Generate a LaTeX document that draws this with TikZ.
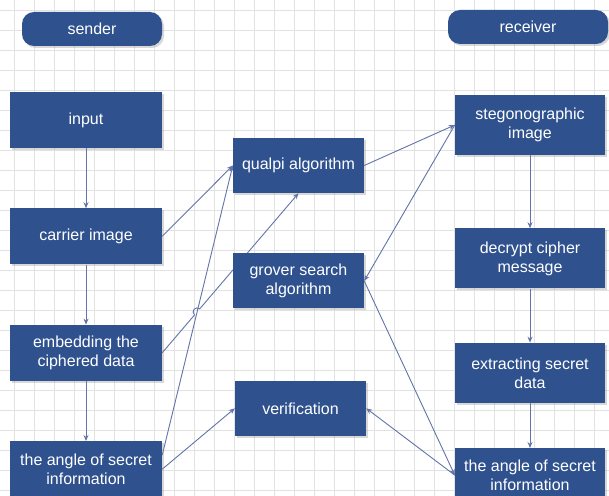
\documentclass[tikz,border=0pt]{standalone}
\usepackage{fontspec}
\setmainfont{Liberation Sans}
\usetikzlibrary{positioning, arrows.meta, shadows, calc, intersections, backgrounds}

\definecolor{boxblue}{RGB}{47,82,143}
\definecolor{linkblue}{RGB}{98,116,168}
\definecolor{gridgray}{RGB}{226,226,226}

\begin{document}
\begin{tikzpicture}[x=1pt, y=1pt, node distance=60pt,
    box/.style={fill=boxblue, text=white, align=center, inner sep=0pt,
        font=\fontsize{16}{19}\selectfont,
        drop shadow={shadow xshift=2pt, shadow yshift=-2pt, opacity=0.3}},
    sidebox/.style={box, minimum width=152pt, minimum height=56pt},
    midbox/.style={box, minimum width=131pt, minimum height=55pt},
    recvbox/.style={box, minimum width=150pt, minimum height=60pt},
    header/.style={box, rounded corners=12pt, minimum height=34pt},
    link/.style={draw=linkblue, line width=0.9pt, -{Stealth[length=6pt, width=5pt]}}]
    \useasboundingbox (0,0) rectangle (609,-495);

    \node[header, minimum width=140pt] at (92,-29)  (sender)   {sender};
    \node[header, minimum width=160pt] at (528,-27) (receiver) {receiver};

    \node[sidebox] at (86,-120)            (input)         {input};
    \node[sidebox, below=of input]         (carrier image) {carrier image};
    \node[sidebox, below=of carrier image] (embedding)     {embedding the\\ciphered data};
    \node[sidebox, below=of embedding]     (angle left)    {the angle of secret\\information};

    \node[midbox] at (298.5,-165.5)                    (qualpi)       {qualpi algorithm};
    \node[midbox, below=of qualpi]                     (grover)       {grover search\\algorithm};
    \node[midbox, below=72pt of grover, xshift=2pt]    (verification) {verification};

    \node[recvbox] at (530,-125)                (stego image)  {stegonographic\\image};
    \node[recvbox, below=73pt of stego image]   (decrypt)      {decrypt cipher\\message};
    \node[recvbox, below=54pt of decrypt]       (extracting)   {extracting secret\\data};
    \node[recvbox, minimum height=54pt, below=45pt of extracting] (angle right) {the angle of secret\\information};

    \begin{scope}[on background layer]
        \fill[white] (0,0) rectangle (609,-495);
        \draw[gridgray, line width=0.8pt, shift={(14,-10)}] (-20,-500) grid[step=20pt] (600,10);

        \draw[link] (input) -- (carrier image);
        \draw[link] (carrier image) -- (embedding);
        \draw[link] (embedding) -- (angle left);
        \draw[link] (stego image) -- (decrypt);
        \draw[link] (decrypt) -- (extracting);
        \draw[link] (extracting) -- (angle right);

        \draw[link] (carrier image.east) -- (qualpi.west);
        \draw[link, name path=steep] ([yshift=14pt]angle left.east) -- (qualpi.west);
        \path[name path=embline] (embedding.east) -- (qualpi.south);
        \path[name intersections={of=steep and embline, by=hop}];
        \draw[link] let \p1=($(qualpi.south)-(embedding.east)$), \n1={atan2(\y1,\x1)} in
            (embedding.east) -- ($(hop)!4pt!(embedding.east)$)
            arc[start angle=\n1+180, end angle=\n1, radius=4pt] -- (qualpi.south);
        \draw[link] (angle left.east) -- (verification.west);

        \draw[link] (qualpi.east) -- (stego image.west);
        \draw[link] (stego image.west) -- (grover.east);
        \draw[link] (grover.east) -- (angle right.west);
        \draw[link] (angle right.west) -- (verification.east);
    \end{scope}
\end{tikzpicture}
\end{document}
